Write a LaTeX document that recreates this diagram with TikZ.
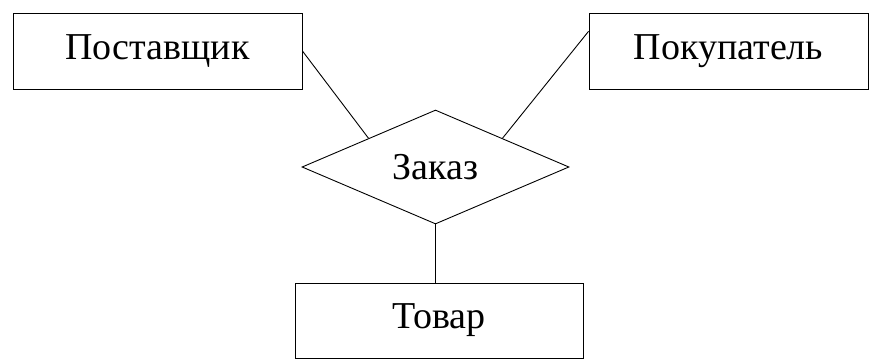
\documentclass[tikz,border=0pt]{standalone}
\usepackage{fontspec}
\setmainfont{Liberation Serif}
\usepackage{tikz}
\usetikzlibrary{shapes.geometric}

\begin{document}
\begin{tikzpicture}[x=1pt, y=1pt, line width=0.9pt,
    entity/.style={draw, rectangle, inner sep=0pt, font=\fontsize{38}{42}\selectfont},
    relation/.style={draw, diamond, inner sep=0pt, minimum width=267pt, minimum height=114pt, font=\fontsize{38}{42}\selectfont}]
    \useasboundingbox (0,0) rectangle (869,360);
    \node[entity, minimum width=289pt, minimum height=76pt] (postavshchik) at (157.5,309) {Поставщик};
    \node[entity, minimum width=279pt, minimum height=76pt] (pokupatel) at (728.5,309) {Покупатель};
    \node[relation] (zakaz) at (435.5,193) {Заказ};
    \node[entity, minimum width=288pt, minimum height=75pt] (tovar) at (439,39.5) {Товар};
    \draw (postavshchik.east) -- (zakaz.north west);
    \draw (pokupatel.172.6) -- (zakaz.north east);
    \draw (zakaz.south) -- (zakaz.south |- tovar.north);
\end{tikzpicture}
\end{document}
